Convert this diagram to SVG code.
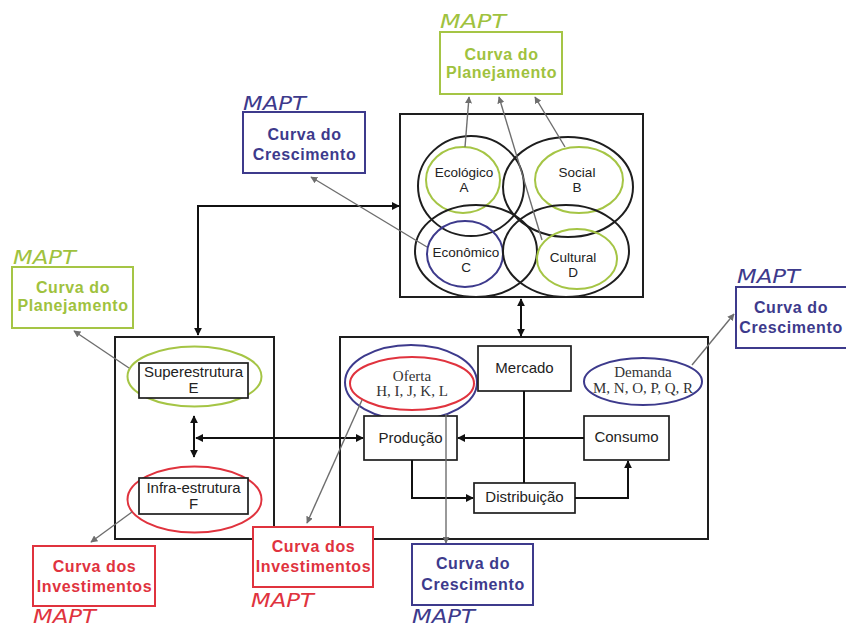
<svg xmlns="http://www.w3.org/2000/svg" width="846" height="628" viewBox="0 0 846 628">
<style>
.box{fill:none;stroke:#1e1e1e;stroke-width:2}
.rect{fill:#fff;stroke:#1e1e1e;stroke-width:1.7}
.circ{fill:none;stroke:#1e1e1e;stroke-width:2}
.lbl{font-family:"Liberation Sans",Arial,sans-serif;font-size:15px;fill:#222;text-anchor:middle}
.sm{font-size:13.5px}
.ser{font-family:"Liberation Serif","Times New Roman",serif;font-size:15px;fill:#333;text-anchor:middle}
.curve{font-family:"Liberation Sans",Arial,sans-serif;font-weight:bold;font-size:16px;text-anchor:middle;letter-spacing:0.6px}
.mapt{font-family:"DejaVu Sans",sans-serif;font-style:italic;font-size:20px}
.gs{stroke:#a5c545;fill:none;stroke-width:2}
.bs{stroke:#3d3a8c;fill:none;stroke-width:2}
.rs{stroke:#e0333e;fill:none;stroke-width:2}
.gf{fill:#9fc23e}
.bf{fill:#3d3a8c}
.rf{fill:#e0333e}
.cbox{fill:#fff;stroke-width:2}
.blk{fill:none;stroke:#111;stroke-width:2}
.gray{fill:none;stroke:#6e6e6e;stroke-width:1.4}
</style>
<defs>
<marker id="ab" viewBox="0 0 10 10" refX="9" refY="5" markerWidth="8" markerHeight="8" markerUnits="userSpaceOnUse" orient="auto-start-reverse"><path d="M0,0 L10,5 L0,10 z" fill="#111"/></marker>
<marker id="ag" viewBox="0 0 10 10" refX="9" refY="5" markerWidth="7" markerHeight="7" markerUnits="userSpaceOnUse" orient="auto-start-reverse"><path d="M0,0 L10,5 L0,10 z" fill="#6e6e6e"/></marker>
</defs>
<rect width="846" height="628" fill="#fff"/>

<!-- containers -->
<g id="box-dimensoes"><rect class="box" x="400" y="114" width="243" height="183"/></g>
<g id="box-estrutura"><rect class="box" x="115" y="337" width="159" height="202"/></g>
<g id="box-mercado"><rect class="box" x="340" y="337" width="368" height="202"/></g>

<!-- circles -->
<g id="ecologico">
<ellipse class="circ" cx="471" cy="186" rx="53" ry="50"/>
<ellipse class="gs" cx="463" cy="180" rx="37" ry="33"/>
<text class="lbl sm" x="464" y="177">Ecológico</text>
<text class="lbl sm" x="464" y="192">A</text>
</g>
<g id="social">
<ellipse class="circ" cx="568" cy="187" rx="65" ry="50"/>
<ellipse class="gs" cx="579" cy="180" rx="44" ry="33"/>
<text class="lbl sm" x="577" y="177">Social</text>
<text class="lbl sm" x="577" y="192">B</text>
</g>
<g id="economico">
<ellipse class="circ" cx="476" cy="251" rx="61" ry="46"/>
<ellipse class="bs" cx="465" cy="254" rx="38" ry="33"/>
<text class="lbl sm" x="466" y="257">Econômico</text>
<text class="lbl sm" x="466" y="272">C</text>
</g>
<g id="cultural">
<ellipse class="circ" cx="566" cy="251" rx="63" ry="46"/>
<ellipse class="gs" cx="577" cy="259" rx="40" ry="30"/>
<text class="lbl sm" x="573" y="262">Cultural</text>
<text class="lbl sm" x="573" y="277">D</text>
</g>

<!-- left box nodes -->
<g id="superestrutura">
<ellipse class="gs" cx="194.5" cy="376.5" rx="67" ry="30"/>
<rect class="rect" x="139" y="363" width="109" height="35"/>
<text class="lbl" x="193.5" y="377">Superestrutura</text>
<text class="lbl" x="193.5" y="393">E</text>
</g>
<g id="infraestrutura">
<ellipse class="rs" cx="194.5" cy="499.5" rx="67" ry="33"/>
<rect class="rect" x="139" y="478" width="109" height="36"/>
<text class="lbl" x="193.5" y="493">Infra-estrutura</text>
<text class="lbl" x="193.5" y="509">F</text>
</g>

<!-- main box nodes -->
<g id="oferta">
<ellipse class="bs" cx="411" cy="382.5" rx="66" ry="37.5"/>
<ellipse class="rs" cx="412" cy="383.5" rx="62" ry="26.5"/>
<text class="ser" x="412" y="381">Oferta</text>
<text class="ser" x="412" y="396">H, I, J, K, L</text>
</g>
<g id="mercado">
<rect class="rect" x="478" y="346" width="93" height="45"/>
<text class="lbl" x="524.5" y="373">Mercado</text>
</g>
<g id="demanda">
<ellipse class="bs" cx="643" cy="381.5" rx="59" ry="23.5"/>
<text class="ser" x="643" y="377">Demanda</text>
<text class="ser" x="643" y="393">M, N, O, P, Q, R</text>
</g>
<g id="producao">
<rect class="rect" x="364" y="416" width="93" height="44"/>
<text class="lbl" x="410.5" y="443">Produção</text>
</g>
<g id="consumo">
<rect class="rect" x="584" y="416" width="85" height="44"/>
<text class="lbl" x="626.5" y="442">Consumo</text>
</g>
<g id="distribuicao">
<rect class="rect" x="474" y="483" width="101" height="30"/>
<text class="lbl" x="524.5" y="502">Distribuição</text>
</g>

<!-- connectors -->
<g id="connectors">
<path class="blk" d="M198,335 V206 H399" marker-start="url(#ab)" marker-end="url(#ab)"/>
<path class="blk" d="M521,299 V336" marker-start="url(#ab)" marker-end="url(#ab)"/>
<path class="blk" d="M194,416 V457" marker-start="url(#ab)" marker-end="url(#ab)"/>
<path class="blk" d="M196,438 H363" marker-start="url(#ab)" marker-end="url(#ab)"/>
<path class="blk" d="M584,438 H458" marker-end="url(#ab)"/>
<path class="blk" d="M412,460 V498 H473" marker-end="url(#ab)"/>
<path class="blk" d="M575,498 H628 V461" marker-end="url(#ab)"/>
<path class="blk" d="M524,391 V483"/>
<path class="gray" d="M465,147 L469,97" marker-end="url(#ag)"/>
<path class="gray" d="M542,240 L499,97" marker-end="url(#ag)"/>
<path class="gray" d="M565,147 L535,97" marker-end="url(#ag)"/>
<path class="gray" d="M427,247 L311,177" marker-end="url(#ag)"/>
<path class="gray" d="M129,368 L74,331" marker-end="url(#ag)"/>
<path class="gray" d="M132,512 L91,542" marker-end="url(#ag)"/>
<path class="gray" d="M362,400 L307,523" marker-end="url(#ag)"/>
<path class="gray" d="M446,414 V543" marker-end="url(#ag)"/>
<path class="gray" d="M692,365 L734,314" marker-end="url(#ag)"/>
</g>

<!-- MAPT curves -->
<g id="curva-planejamento-top">
<text class="mapt gf" x="440" y="28" textLength="66" lengthAdjust="spacingAndGlyphs">MAPT</text>
<rect class="gs cbox" x="440" y="32" width="122" height="62"/>
<text class="curve gf" x="501.5" y="60">Curva do</text>
<text class="curve gf" x="501.5" y="78">Planejamento</text>
</g>
<g id="curva-crescimento-top">
<text class="mapt bf" x="243" y="110" textLength="63" lengthAdjust="spacingAndGlyphs">MAPT</text>
<rect class="bs cbox" x="243" y="112" width="122" height="61"/>
<text class="curve bf" x="304.5" y="140">Curva do</text>
<text class="curve bf" x="304.5" y="160">Crescimento</text>
</g>
<g id="curva-planejamento-left">
<text class="mapt gf" x="13" y="264" textLength="63" lengthAdjust="spacingAndGlyphs">MAPT</text>
<rect class="gs cbox" x="12" y="267" width="121" height="61"/>
<text class="curve gf" x="73" y="293">Curva do</text>
<text class="curve gf" x="73" y="311">Planejamento</text>
</g>
<g id="curva-crescimento-right">
<text class="mapt bf" x="737" y="283" textLength="63" lengthAdjust="spacingAndGlyphs">MAPT</text>
<rect class="bs cbox" x="736" y="287" width="116" height="61"/>
<text class="curve bf" x="791" y="313">Curva do</text>
<text class="curve bf" x="791" y="333">Crescimento</text>
</g>
<g id="curva-investimentos-left">
<rect class="rs cbox" x="33" y="546" width="122" height="60"/>
<text class="curve rf" x="94.5" y="572">Curva dos</text>
<text class="curve rf" x="94.5" y="592">Investimentos</text>
<text class="mapt rf" x="33" y="623" textLength="63" lengthAdjust="spacingAndGlyphs">MAPT</text>
</g>
<g id="curva-investimentos-mid">
<rect class="rs cbox" x="253" y="527" width="120" height="60"/>
<text class="curve rf" x="313.5" y="552">Curva dos</text>
<text class="curve rf" x="313.5" y="572">Investimentos</text>
<text class="mapt rf" x="251" y="607" textLength="63" lengthAdjust="spacingAndGlyphs">MAPT</text>
</g>
<g id="curva-crescimento-bottom">
<rect class="bs cbox" x="412" y="544" width="121" height="61"/>
<text class="curve bf" x="473" y="569">Curva do</text>
<text class="curve bf" x="473" y="590">Crescimento</text>
<text class="mapt bf" x="412" y="623" textLength="63" lengthAdjust="spacingAndGlyphs">MAPT</text>
</g>
</svg>
